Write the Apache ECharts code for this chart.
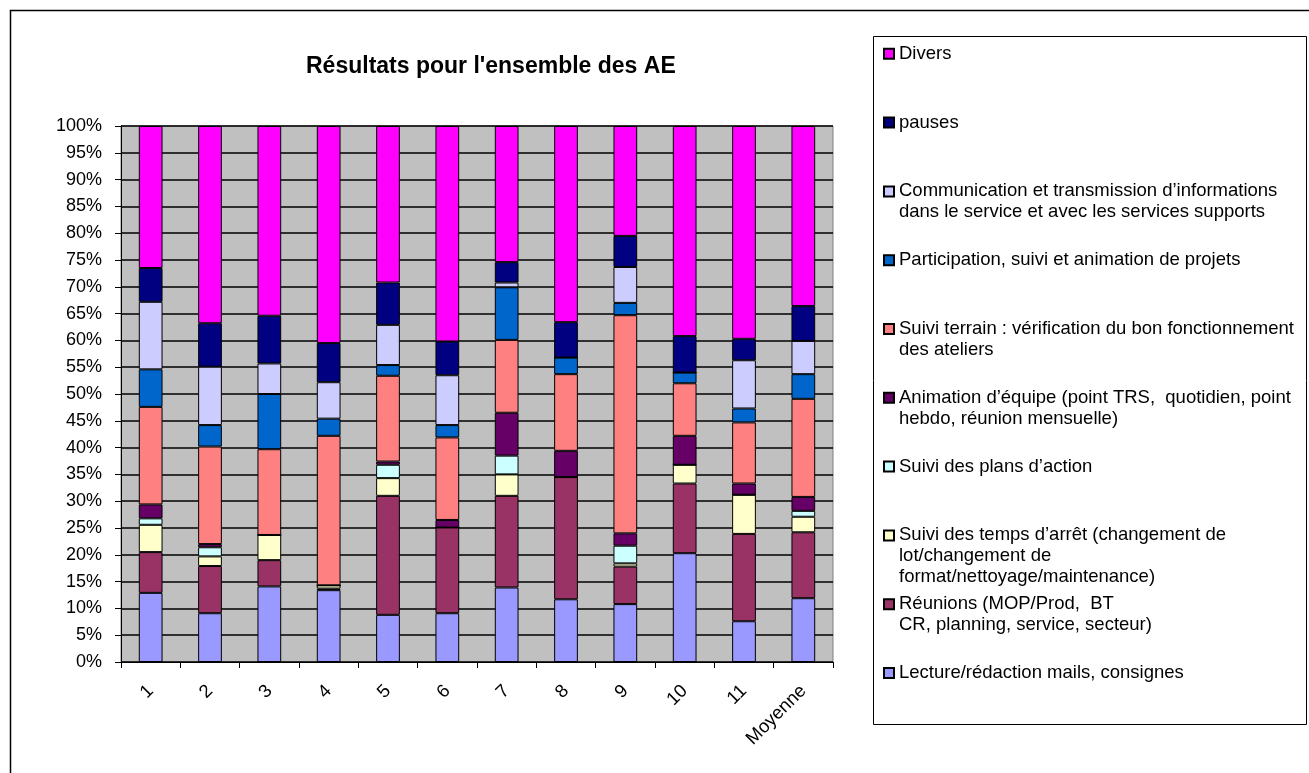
<!DOCTYPE html>
<html>
<head>
<meta charset="utf-8">
<script src="https://cdn.jsdelivr.net/npm/echarts@6/dist/echarts.min.js"></script>
<style>
html, body { margin: 0; padding: 0; background: #fff; }
#main { width: 1309px; height: 773px; }
</style>
</head>
<body>
<div id="main"></div>
<script>
var FONT = '"Liberation Sans", Arial, sans-serif'

var categories = ['1', '2', '3', '4', '5', '6', '7', '8', '9', '10', '11', 'Moyenne']
var yTicks = [0, 100, 5]

// stacked from the bottom up, values in %
var lecture = [12.9, 9.1, 14.1, 13.4, 8.8, 9.1, 13.9, 11.7, 10.8, 20.3, 7.6, 11.9]
var reunions = [7.6, 8.8, 4.9, 0.3, 22.2, 16.0, 17.1, 22.8, 7.0, 13.0, 16.3, 12.3]
var tempsArret = [5.1, 1.8, 4.7, 0.6, 3.3, 0, 4.0, 0, 0.6, 3.5, 7.3, 2.9]
var plansAction = [1.2, 1.7, 0, 0, 2.5, 0, 3.5, 0, 3.3, 0, 0, 1.1]
var animation = [2.6, 0.6, 0, 0, 0.6, 1.4, 8.0, 4.9, 2.3, 5.4, 2.1, 2.6]
var suiviTerrain = [18.2, 18.2, 16.0, 27.9, 16.0, 15.4, 13.6, 14.3, 40.7, 9.8, 11.4, 18.3]
var participation = [7.0, 4.0, 10.3, 3.2, 2.0, 2.3, 9.8, 3.1, 2.3, 2.0, 2.6, 4.6]
var communication = [12.6, 10.9, 5.7, 6.8, 7.5, 9.3, 0.9, 0, 6.7, 0, 9.0, 6.2]
var pauses = [6.3, 8.1, 8.9, 7.3, 7.9, 6.3, 3.8, 6.6, 5.8, 6.8, 4.0, 6.5]
var divers = [26.5, 36.8, 35.4, 40.5, 29.2, 40.2, 25.4, 36.6, 20.5, 39.2, 39.7, 33.6]

var seriesList = [
  { name: 'Lecture/rédaction mails, consignes', data: lecture, color: '#9999FF' },
  { name: 'Réunions (MOP/Prod,  BT\nCR, planning, service, secteur)', data: reunions, color: '#993366' },
  { name: 'Suivi des temps d’arrêt (changement de\nlot/changement de\nformat/nettoyage/maintenance)', data: tempsArret, color: '#FFFFCC' },
  { name: 'Suivi des plans d’action', data: plansAction, color: '#CCFFFF' },
  { name: 'Animation d’équipe (point TRS,  quotidien, point\nhebdo, réunion mensuelle)', data: animation, color: '#660066' },
  { name: 'Suivi terrain : vérification du bon fonctionnement\ndes ateliers', data: suiviTerrain, color: '#FF8080' },
  { name: 'Participation, suivi et animation de projets', data: participation, color: '#0066CC' },
  { name: 'Communication et transmission d’informations\ndans le service et avec les services supports', data: communication, color: '#CCCCFF' },
  { name: 'pauses', data: pauses, color: '#000080' },
  { name: 'Divers', data: divers, color: '#FF00FF' }
]

var chart = echarts.init(document.getElementById('main'))

// one legend per entry; wrapped labels get blank lines on top so the
// icon lines up with their first line
var LH = 21
var legends = seriesList.slice().reverse().map(function (s, i) {
  var n = s.name.split('\n').length
  var y = 53.8 + 68.8 * i
  return {
    orient: 'vertical',
    left: 883,
    top: y - (2 * n - 1) * LH / 2,
    padding: 0,
    itemWidth: 10,
    itemHeight: 10,
    selectedMode: false,
    data: [{ name: s.name, icon: 'rect' }],
    formatter: function (name) {
      return new Array(n).join('\n') + name
    },
    textStyle: {
      fontSize: 18.5,
      fontFamily: FONT,
      color: '#000',
      lineHeight: LH
    }
  }
})

var option = {
  animation: false,
  backgroundColor: '#fff',
  title: {
    text: 'Résultats pour l\'ensemble des AE',
    left: 306,
    top: 55,
    padding: 0,
    textStyle: { fontSize: 23, fontWeight: 'bold', fontFamily: FONT, color: '#000' }
  },
  legend: legends,
  grid: {
    left: 121,
    top: 126,
    width: 712,
    height: 536,
    show: true,
    backgroundColor: '#C0C0C0',
    borderColor: '#808080',
    borderWidth: 1
  },
  xAxis: {
    type: 'category',
    data: categories,
    axisLine: { lineStyle: { color: '#000', width: 1 } },
    axisTick: { show: true, length: 6, lineStyle: { color: '#000' } },
    axisLabel: {
      rotate: 45,
      margin: 26,
      fontSize: 18.5,
      fontFamily: FONT,
      color: '#000'
    }
  },
  yAxis: {
    type: 'value',
    min: yTicks[0],
    max: yTicks[1],
    interval: yTicks[2],
    axisLine: { show: true, lineStyle: { color: '#000', width: 1 } },
    axisTick: { show: true, length: 6, lineStyle: { color: '#000' } },
    axisLabel: {
      formatter: '{value}%',
      margin: 19,
      fontSize: 18,
      fontFamily: FONT,
      color: '#000'
    },
    splitLine: { show: true, lineStyle: { color: '#000', width: 1.5 } }
  },
  series: seriesList.map(function (s) {
    return {
      name: s.name,
      type: 'bar',
      stack: 'total',
      barWidth: '40%',
      data: s.data,
      itemStyle: { color: s.color, borderColor: '#000', borderWidth: 1 }
    }
  }),
  graphic: [
    {
      type: 'rect',
      shape: { x: 10.5, y: 10.5, width: 1320, height: 800 },
      style: { fill: 'none', stroke: '#000', lineWidth: 1.5 },
      silent: true
    },
    {
      type: 'rect',
      shape: { x: 873.5, y: 36.5, width: 433, height: 688 },
      style: { fill: 'none', stroke: '#000', lineWidth: 1 },
      silent: true
    }
  ]
}

chart.setOption(option)
</script>
</body>
</html>
